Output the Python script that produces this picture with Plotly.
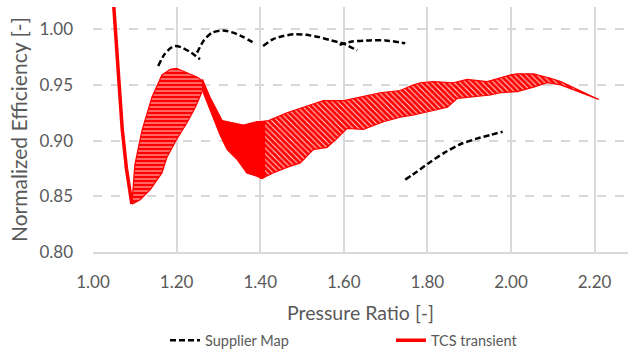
import plotly.graph_objects as go

# ---- Supplier map speed lines (dashed black) ----
map_s1_x = [1.156, 1.170, 1.185, 1.196, 1.210, 1.235, 1.256]
map_s1_y = [0.967, 0.977, 0.983, 0.985, 0.984, 0.979, 0.973]
map_s2_x = [1.249, 1.265, 1.285, 1.311, 1.335, 1.360, 1.388]
map_s2_y = [0.979, 0.990, 0.997, 0.999, 0.997, 0.993, 0.987]
map_s3_x = [1.407, 1.430, 1.455, 1.480, 1.510, 1.540, 1.570, 1.600, 1.632]
map_s3_y = [0.985, 0.991, 0.994, 0.9955, 0.995, 0.993, 0.990, 0.987, 0.981]
map_s4_x = [1.590, 1.620, 1.663, 1.700, 1.747]
map_s4_y = [0.986, 0.989, 0.990, 0.990, 0.9875]
map_s5_x = [1.747, 1.775, 1.800, 1.840, 1.880, 1.920, 1.950, 1.980]
map_s5_y = [0.865, 0.872, 0.879, 0.889, 0.897, 0.902, 0.905, 0.908]

# ---- TCS transient (red) ----
lead_x = [1.048, 1.055, 1.062, 1.070, 1.080, 1.093]
lead_y = [1.030, 0.990, 0.950, 0.910, 0.875, 0.843]

rise_x = [1.093, 1.100, 1.117, 1.141, 1.165, 1.185, 1.200, 1.232, 1.250, 1.264,
          1.262, 1.245, 1.225, 1.200, 1.177, 1.165, 1.137, 1.113, 1.093]
rise_y = [0.843, 0.878, 0.909, 0.939, 0.959, 0.964, 0.965, 0.960, 0.957, 0.953,
          0.945, 0.930, 0.916, 0.901, 0.885, 0.871, 0.856, 0.847, 0.843]

drop_x = [1.262, 1.280, 1.309, 1.324, 1.360, 1.392, 1.410,
          1.410, 1.404, 1.392, 1.368, 1.345, 1.321, 1.304, 1.280, 1.264, 1.262]
drop_y = [0.955, 0.939, 0.918, 0.917, 0.914, 0.917, 0.917,
          0.867, 0.866, 0.868, 0.871, 0.883, 0.892, 0.905, 0.927, 0.943, 0.955]

climb_x = [1.400, 1.420, 1.464, 1.496, 1.551, 1.600, 1.640, 1.687, 1.735, 1.765,
           1.783, 1.814, 1.862, 1.895, 1.943, 1.999, 2.015, 2.054, 2.095, 2.119, 2.210,
           2.166, 2.119, 2.087, 2.054, 2.015, 1.975, 1.951, 1.903, 1.872, 1.848,
           1.814, 1.767, 1.735, 1.695, 1.647, 1.608, 1.584, 1.560, 1.527, 1.496,
           1.464, 1.431, 1.404, 1.400]
climb_y = [0.917, 0.918, 0.925, 0.929, 0.936, 0.936, 0.939, 0.943, 0.945, 0.950,
           0.952, 0.953, 0.952, 0.955, 0.953, 0.959, 0.960, 0.960, 0.956, 0.953, 0.937,
           0.943, 0.950, 0.952, 0.948, 0.944, 0.943, 0.941, 0.939, 0.938, 0.930,
           0.927, 0.923, 0.921, 0.917, 0.910, 0.911, 0.902, 0.894, 0.892, 0.880,
           0.876, 0.871, 0.866, 0.866]

x_ticks = [1.0, 1.2, 1.4, 1.6, 1.8, 2.0, 2.2]
y_ticks = [0.80, 0.85, 0.90, 0.95, 1.00]

FONT = "Lato"
GRAY = "#595959"
GRID = "#d9d9d9"
RED = "#ff0000"

fig = go.Figure()

# Supplier map (one trace, gaps between speed lines)
sx, sy = [], []
for xs, ys in [(map_s1_x, map_s1_y), (map_s2_x, map_s2_y), (map_s3_x, map_s3_y),
               (map_s4_x, map_s4_y), (map_s5_x, map_s5_y)]:
    sx += xs + [None]
    sy += ys + [None]
fig.add_trace(go.Scatter(x=sx, y=sy, mode="lines", name="Supplier Map",
                         line=dict(color="black", width=2.5, dash="6px,3px", shape="spline", smoothing=0.6),
                         connectgaps=False))

# TCS transient band
pat = dict(fgcolor=RED, bgcolor="#ffe8e8", size=4, solidity=0.78, fillmode="replace", fgopacity=1)
fig.add_trace(go.Scatter(x=rise_x, y=rise_y, mode="lines", fill="toself",
                         line=dict(color=RED, width=1.2), fillcolor=RED,
                         fillpattern=dict(shape="-", **pat),
                         showlegend=False, hoverinfo="skip"))
fig.add_trace(go.Scatter(x=climb_x, y=climb_y, mode="lines", fill="toself",
                         line=dict(color=RED, width=1.2), fillcolor=RED,
                         fillpattern=dict(shape="\\", **pat),
                         showlegend=False, hoverinfo="skip"))
fig.add_trace(go.Scatter(x=drop_x, y=drop_y, mode="lines", fill="toself",
                         line=dict(color=RED, width=1.2), fillcolor=RED,
                         showlegend=False, hoverinfo="skip"))
fig.add_trace(go.Scatter(x=lead_x, y=lead_y, mode="lines", name="TCS transient",
                         line=dict(color=RED, width=3.5)))

fig.update_layout(
    width=631, height=353,
    margin=dict(l=93, r=3, t=7, b=101, autoexpand=False),
    paper_bgcolor="white", plot_bgcolor="white",
    font=dict(family=FONT, color=GRAY, size=17),
    showlegend=True,
    legend=dict(orientation="h", x=0.557, xanchor="center", y=-0.295, yanchor="top",
                font=dict(size=14.5, color=GRAY), entrywidth=181, traceorder="normal"),
    xaxis=dict(range=[1.0, 2.28], tickvals=x_ticks, ticktext=[f"{v:.2f}" for v in x_ticks],
               showgrid=True, gridcolor=GRID, gridwidth=1.5, zeroline=False,
               showline=True, linecolor=GRID, linewidth=1.5, automargin=False,
               ticks="", ticklabelstandoff=14,
               title=dict(text="Pressure Ratio [-]", standoff=15, font=dict(size=19.5))),
    yaxis=dict(range=[0.80, 1.02], tickvals=y_ticks, ticktext=[f"{v:.2f}" for v in y_ticks],
               showgrid=True, gridcolor=GRID, gridwidth=1.5, griddash="dash", zeroline=False,
               showline=False, ticks="", ticklabelstandoff=19, automargin=False,
               title=dict(text="Normalized Efficiency [-]", standoff=6, font=dict(size=21))),
)

fig.write_html("out.html")
